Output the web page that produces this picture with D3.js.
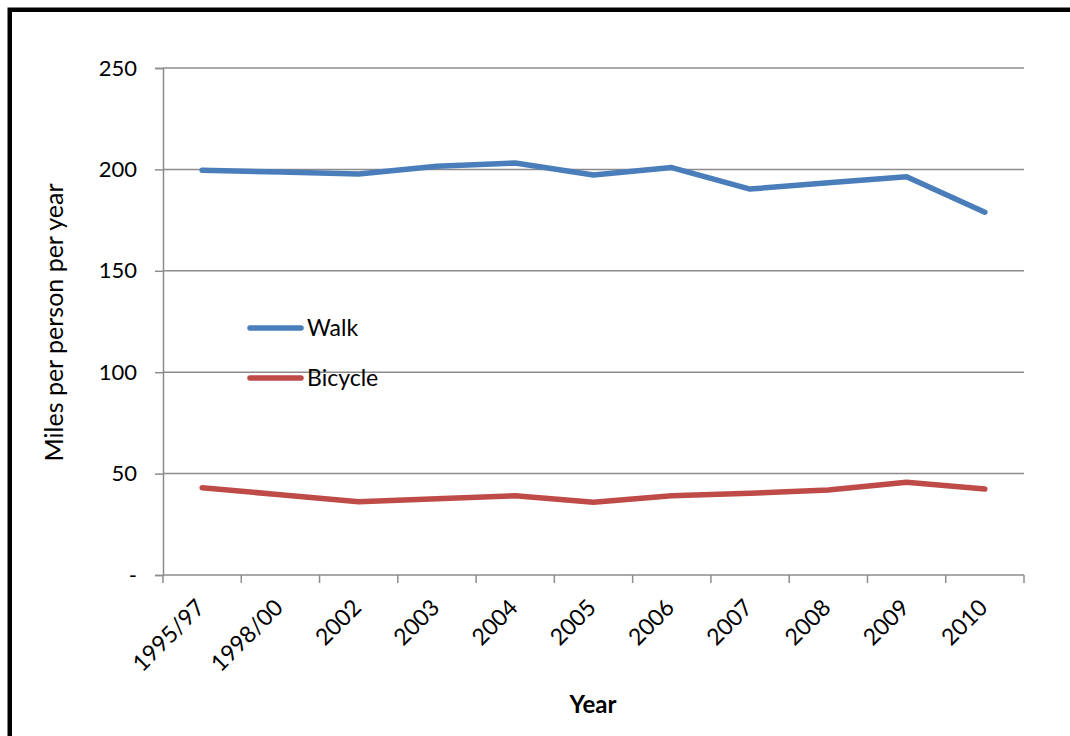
<!DOCTYPE html>
<html>
<head>
<meta charset="utf-8">
<script src="https://cdn.jsdelivr.net/npm/d3@7/dist/d3.min.js"></script>
<style>
  html, body { margin: 0; padding: 0; background: #fff; }
  svg { display: block; font-family: Lato, "Open Sans", "Liberation Sans", sans-serif; }
</style>
</head>
<body>
<svg id="chart" width="1070" height="736"></svg>
<script>
// Travel distance by mode (miles per person per year)
const years = ["1995/97", "1998/00", "2002", "2003", "2004", "2005", "2006", "2007", "2008", "2009", "2010"];
const walk = [199.6, 198.7, 197.7, 201.5, 203.2, 197.2, 200.9, 190.3, 193.4, 196.4, 178.9];
const bicycle = [43.0, 39.6, 36.1, 37.6, 39.1, 35.9, 39.1, 40.3, 41.9, 45.7, 42.4];
const yTicks = [0, 50, 100, 150, 200, 250];
const seriesNames = ["Walk", "Bicycle"];
const seriesColors = ["#4a7ebb", "#be4b48"];

const svg = d3.select("#chart");

// frame around the chart (extends past the right and bottom edges)
svg.append("rect")
  .attr("x", 9.75).attr("y", 9.75)
  .attr("width", 1200).attr("height", 1000)
  .attr("fill", "none").attr("stroke", "#000").attr("stroke-width", 4.5);

const plotLeft = 163, plotRight = 1024, plotTop = 68, plotBottom = 575;

const x = d3.scaleBand().domain(years).range([plotLeft, plotRight]);
const y = d3.scaleLinear().domain([0, 250]).range([plotBottom, plotTop]);

// horizontal gridlines
svg.append("g")
  .selectAll("line")
  .data(yTicks.filter(d => d > 0))
  .join("line")
  .attr("x1", plotLeft).attr("x2", plotRight)
  .attr("y1", d => y(d)).attr("y2", d => y(d))
  .attr("stroke", "#8c8c8c").attr("stroke-width", 1.5);

// y axis
const yAxis = d3.axisLeft(y)
  .tickValues(yTicks)
  .tickSize(8)
  .tickPadding(18)
  .tickFormat(d => d === 0 ? "-" : d);
const gy = svg.append("g").attr("transform", `translate(${plotLeft},0)`).call(yAxis);
gy.select(".domain").attr("stroke", "#8c8c8c").attr("stroke-width", 1.5);
gy.selectAll(".tick line").attr("stroke", "#8c8c8c").attr("stroke-width", 1.5);
gy.selectAll(".tick text")
  .attr("font-size", 22).attr("fill", "#000")
  .attr("font-family", "Lato, 'Open Sans', sans-serif");

// x axis with ticks at category boundaries
const boundaries = years.map(d => x(d)).concat([plotRight]);
const gx = svg.append("g");
gx.append("line")
  .attr("x1", plotLeft).attr("x2", plotRight)
  .attr("y1", plotBottom).attr("y2", plotBottom)
  .attr("stroke", "#8c8c8c").attr("stroke-width", 1.5);
gx.selectAll("line.tk")
  .data(boundaries)
  .join("line").attr("class", "tk")
  .attr("x1", d => d).attr("x2", d => d)
  .attr("y1", plotBottom).attr("y2", plotBottom + 8)
  .attr("stroke", "#8c8c8c").attr("stroke-width", 1.5);
gx.selectAll("text")
  .data(years)
  .join("text")
  .attr("transform", d => `translate(${x(d) + x.bandwidth() / 2 + 4},${plotBottom + 34}) rotate(-45)`)
  .attr("text-anchor", "end")
  .attr("font-size", 23)
  .attr("fill", "#000")
  .text(d => d);

// axis titles
svg.append("text")
  .attr("transform", `translate(63,${(plotTop + plotBottom) / 2 + 1}) rotate(-90)`)
  .attr("text-anchor", "middle")
  .attr("font-size", 25)
  .text("Miles per person per year");
svg.append("text")
  .attr("x", 593).attr("y", 713)
  .attr("text-anchor", "middle")
  .attr("font-size", 24).attr("font-weight", "bold")
  .text("Year");

// series lines
const line = d3.line()
  .x((d, i) => x(years[i]) + x.bandwidth() / 2)
  .y(d => y(d));
[walk, bicycle].forEach((vals, i) => {
  svg.append("path")
    .attr("d", line(vals))
    .attr("fill", "none")
    .attr("stroke", seriesColors[i])
    .attr("stroke-width", 5.5)
    .attr("stroke-linejoin", "round")
    .attr("stroke-linecap", "round");
});

// legend
const legend = svg.append("g");
seriesNames.forEach((name, i) => {
  const ly = 328 + i * 50;
  legend.append("line")
    .attr("x1", 250).attr("x2", 301)
    .attr("y1", ly).attr("y2", ly)
    .attr("stroke", seriesColors[i]).attr("stroke-width", 5.5)
    .attr("stroke-linecap", "round");
  legend.append("text")
    .attr("x", 307).attr("y", ly + 8)
    .attr("font-size", 23).attr("fill", "#000")
    .text(name);
});
</script>
</body>
</html>
